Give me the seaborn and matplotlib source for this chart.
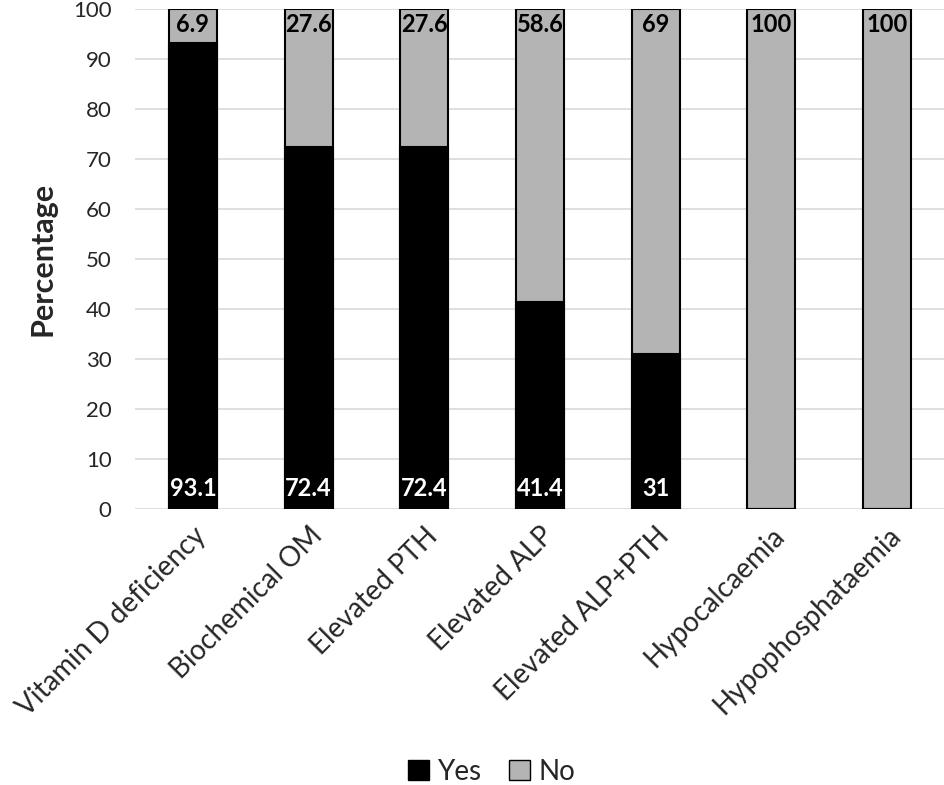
import matplotlib
matplotlib.use("Agg")
import matplotlib.pyplot as plt
import seaborn as sns
import pandas as pd
from matplotlib.patches import Patch

categories = ["Vitamin D deficiency", "Biochemical OM", "Elevated PTH", "Elevated ALP",
              "Elevated ALP+PTH", "Hypocalcaemia", "Hypophosphataemia"]
yes_vals = [93.1, 72.4, 72.4, 41.4, 31, 0, 0]
no_vals = [6.9, 27.6, 27.6, 58.6, 69, 100, 100]
yes_labels = ["93.1", "72.4", "72.4", "41.4", "31", "", ""]
no_labels = ["6.9", "27.6", "27.6", "58.6", "69", "100", "100"]

sns.set_theme(style="white")
plt.rcParams['font.family'] = ['Lato', 'DejaVu Sans']

df = pd.DataFrame({"cat": categories, "yes": yes_vals, "no": no_vals})
df["total"] = df["yes"] + df["no"]

fig = plt.figure(figsize=(9.45, 7.85), dpi=100)
ax = fig.add_axes([0.143, 0.352, 0.857, 0.637])

gray = "#b4b4b4"
sns.barplot(data=df, x="cat", y="total", color=gray, edgecolor="black", linewidth=1.5,
            width=0.415, ax=ax, saturation=1, zorder=3)
sns.barplot(data=df, x="cat", y="yes", color="black", edgecolor="black", linewidth=1.5,
            width=0.415, ax=ax, saturation=1, zorder=4)

for i in range(len(categories)):
    if yes_labels[i]:
        ax.text(i, 4.0, yes_labels[i], ha="center", va="center", color="white",
                fontsize=17, fontweight="bold", zorder=5)
    ax.text(i, 96.8, no_labels[i], ha="center", va="center", color="black",
            fontsize=17, fontweight="bold", zorder=5)

ax.set_ylim(0, 100)
ax.set_xlim(-0.5, len(categories) - 0.5)
ax.set_yticks(range(0, 101, 10))
ax.yaxis.grid(True, color="#d9d9d9", linewidth=1.2, zorder=0)
ax.set_axisbelow(True)
for s in ax.spines.values():
    s.set_visible(False)
ax.tick_params(axis="both", length=0)
ax.tick_params(axis="y", pad=17, labelsize=16)
ax.set_xticks(range(len(categories)))
ax.set_xticklabels(categories, rotation=45, ha="right", rotation_mode="anchor", fontsize=20)
ax.tick_params(axis="x", pad=10)
ax.set_xlabel("")
ax.set_ylabel("Percentage", fontsize=22, fontweight="bold", labelpad=12)

handles = [Patch(facecolor="black", edgecolor="black", label="Yes"),
           Patch(facecolor=gray, edgecolor="black", label="No")]
fig.legend(handles=handles, loc="center", bbox_to_anchor=(0.52, 0.017), ncol=2,
           frameon=False, fontsize=20, handlelength=0.75, handleheight=0.75,
           handletextpad=0.3, columnspacing=1.0)

fig.savefig("out.png", dpi=100)
